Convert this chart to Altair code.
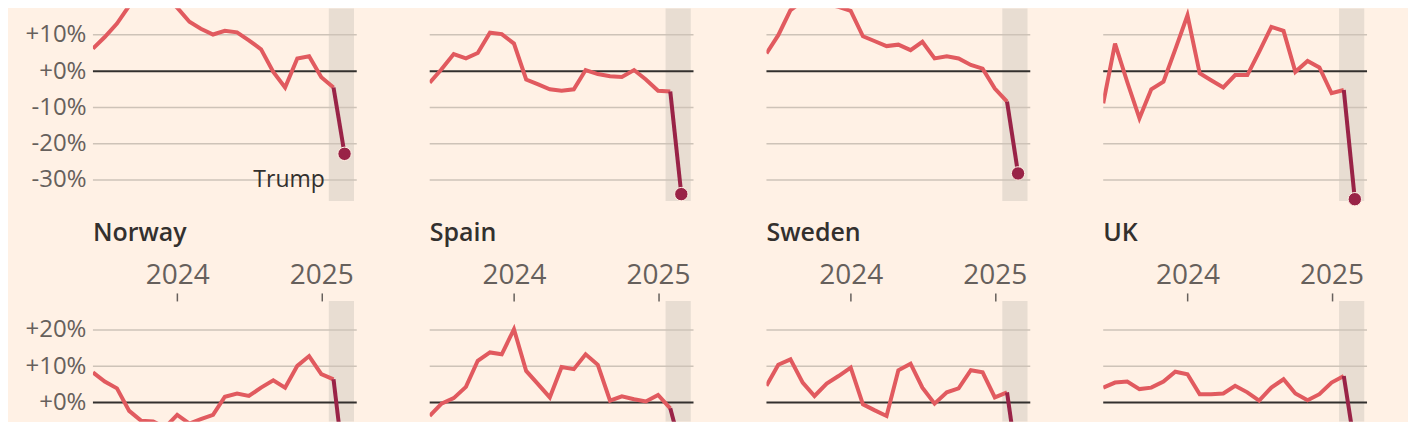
import altair as alt
import pandas as pd

# ---------------- data ----------------
MONTHS = pd.date_range("2023-06-01", "2025-03-01", freq="MS")

# top row (titles are cropped out of view)
top_names = ["Germany", "Ireland", "Italy", "Netherlands"]
top_a = [6.2, 9.4, 13.1, 18.0, 22.5, 23.0, 20.5, 17.5, 13.6, 11.7, 10.1, 11.1,
         10.7, 8.5, 6.0, -0.2, -4.5, 3.5, 4.1, -1.7, -4.5, -22.8]
top_b = [-3.2, 0.5, 4.7, 3.5, 5.0, 10.6, 10.2, 7.6, -2.3, -3.6, -5.0, -5.4,
         -5.0, 0.3, -0.8, -1.4, -1.6, 0.3, -2.3, -5.4, -5.6, -33.9]
top_c = [4.9, 9.9, 16.8, 19.3, 18.2, 18.6, 17.7, 16.6, 9.6, 8.3, 6.9, 7.3,
         5.8, 8.1, 3.5, 4.1, 3.5, 1.7, 0.7, -4.8, -8.4, -28.2]
top_d = [-8.9, 7.6, -3.0, -13.0, -5.0, -2.9, 6.0, 15.4, -0.6, -2.5, -4.5, -1.1,
         -1.1, 5.3, 12.2, 11.1, -0.2, 2.8, 1.0, -6.1, -5.2, -35.3]

# bottom row
bottom_names = ["Norway", "Spain", "Sweden", "UK"]
norway = [8.3, 5.8, 3.9, -2.3, -5.0, -5.2, -6.9, -3.4, -5.8, -4.6, -3.4, 1.6,
          2.5, 1.8, 4.1, 6.1, 4.1, 10.1, 12.8, 7.8, 6.4, -19.1]
spain = [-3.7, -0.3, 1.2, 4.3, 11.5, 13.8, 13.3, 20.2, 8.7, 5.2, 1.4, 9.8,
         9.2, 13.3, 10.4, 0.5, 1.7, 0.9, 0.3, 2.1, -1.6, -13.0]
sweden = [4.6, 10.4, 11.9, 5.5, 1.8, 5.2, 7.3, 9.6, -0.5, -2.1, -3.7, 8.9,
          10.7, 4.1, -0.3, 2.8, 3.9, 8.9, 8.3, 1.4, 2.8, -18.6]
uk = [4.1, 5.5, 5.8, 3.7, 4.1, 5.8, 8.5, 7.8, 2.3, 2.3, 2.5, 4.6,
      2.8, 0.5, 4.1, 6.4, 2.5, 0.6, 2.3, 5.5, 7.3, -12.2]

trump_period = ["2025-01-20", "2025-03-25"]
trump_label = "Trump"
x_tick_years = [2024, 2025]

# ---------------- style ----------------
FONT = "Open Sans"
BG = "#fff1e5"
LIGHT = "#e15a5f"
DARK = "#992347"
BAND = "#e8ddd2"
GRID = "#cec3b8"
ZERO = "#33302e"
LABEL = "#66605c"
W = 264
TOP_H = 193
BOT_H = 121
TOP_DOM = [-35.8, 17.36]
BOT_DOM = [-5.33, 28.0]
X_DOM = [alt.DateTime(year=2023, month=6, date=1), alt.DateTime(year=2025, month=4, date=1)]


def panel(name, values, height, ydom, yvals, first, bottom_row, show_trump):
    df = pd.DataFrame({"date": MONTHS, "value": values})
    xscale = alt.Scale(domain=X_DOM, nice=False)
    if bottom_row:
        xaxis = alt.Axis(orient="top", values=[alt.DateTime(year=y, month=1, date=1) for y in x_tick_years],
                         format="%Y", title=None, grid=False, domain=False, ticks=True,
                         tickSize=8, tickWidth=1.5, tickColor=LABEL, labelFontSize=28,
                         labelColor=LABEL, labelPadding=3, labelFont=FONT)
    else:
        xaxis = None
    yscale = alt.Scale(domain=ydom, nice=False, zero=False)
    if first:
        yaxis = alt.Axis(values=yvals, labelExpr="(datum.value < 0 ? '-' : '+') + abs(datum.value) + '%'",
                         grid=False, domain=False, ticks=False, tickSize=0, labelFontSize=24,
                         labelColor=LABEL, labelPadding=7, minExtent=85, maxExtent=85,
                         title=None, labelFont=FONT)
    else:
        yaxis = None

    def X(f):
        return alt.X(f, type="temporal", scale=xscale, axis=xaxis)

    def Y(f):
        return alt.Y(f, type="quantitative", scale=yscale, axis=yaxis)

    band_df = pd.DataFrame({"start": [pd.Timestamp(trump_period[0])], "end": [pd.Timestamp(trump_period[1])]})
    band = alt.Chart(band_df).mark_rect(color=BAND, clip=True).encode(
        x=X("start"), x2="end:T", y=alt.value(0), y2=alt.value(height))

    grid = alt.Chart(pd.DataFrame({"value": [v for v in yvals if v != 0]})).mark_rule(
        color=GRID, strokeWidth=1.5).encode(y=Y("value"), x=alt.value(0), x2=alt.value(W))
    zero = alt.Chart(pd.DataFrame({"value": [0]})).mark_rule(
        color=ZERO, strokeWidth=2).encode(y=Y("value"), x=alt.value(0), x2=alt.value(W))

    light = alt.Chart(df.iloc[:-1]).mark_line(color=LIGHT, strokeWidth=4, clip=True).encode(
        x=X("date"), y=Y("value"))
    dark = alt.Chart(df.iloc[-2:]).mark_line(color=DARK, strokeWidth=4, clip=True).encode(
        x=X("date"), y=Y("value"))
    dot = alt.Chart(df.iloc[-1:]).mark_circle(size=180, color=DARK, opacity=1, stroke=BG,
                                              strokeWidth=1, clip=bottom_row).encode(
        x=X("date"), y=Y("value"))
    layers = [band, grid, zero, light, dark, dot]
    if show_trump:
        tdf = pd.DataFrame({"date": [pd.Timestamp(trump_period[0])], "value": [-30], "label": [trump_label]})
        layers.append(alt.Chart(tdf).mark_text(align="right", baseline="middle", dx=-4, fontSize=23,
                                               color=ZERO, font=FONT).encode(
            x=X("date"), y=Y("value"), text="label:N"))
    ch = alt.layer(*layers).properties(width=W, height=height)
    if bottom_row:
        ch = ch.properties(title=alt.TitleParams(name, anchor="start", frame="group", fontSize=25,
                                                 fontWeight=600, color=ZERO, font=FONT, offset=16))
    return ch


top_series = [top_a, top_b, top_c, top_d]
bottom_series = [norway, spain, sweden, uk]

top_row = alt.hconcat(*[
    panel(n, v, TOP_H, TOP_DOM, [-30, -20, -10, 0, 10], i == 0, False, i == 0)
    for i, (n, v) in enumerate(zip(top_names, top_series))
], spacing=73, bounds="flush")

bottom_row = alt.hconcat(*[
    panel(n, v, BOT_H, BOT_DOM, [0, 10, 20], i == 0, True, False)
    for i, (n, v) in enumerate(zip(bottom_names, bottom_series))
], spacing=73, bounds="flush")

chart = alt.vconcat(top_row, bottom_row, spacing=13).configure(
    background=BG, padding={"left": 0, "top": 0, "right": 40, "bottom": 0}, font=FONT
).configure_view(stroke=None)

chart.save("out.html", embed_options={"renderer": "svg", "actions": False})
